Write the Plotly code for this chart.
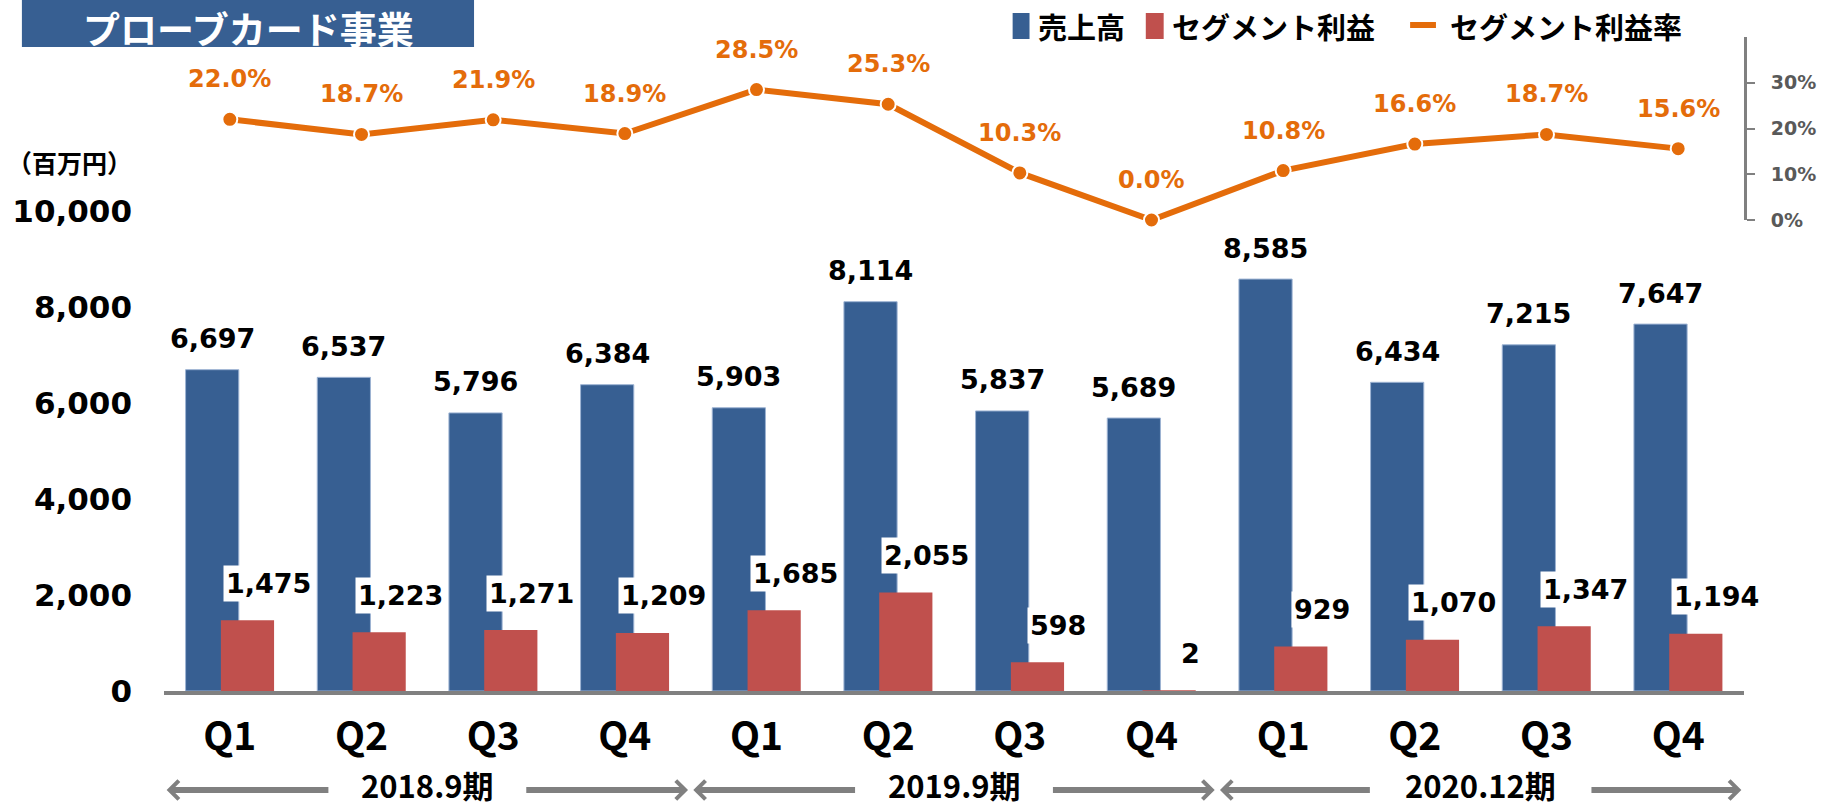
import plotly.graph_objects as go

# ---------------- data ----------------
quarters = ["Q1", "Q2", "Q3", "Q4", "Q1", "Q2", "Q3", "Q4", "Q1", "Q2", "Q3", "Q4"]
periods = ["2018.9期", "2019.9期", "2020.12期"]
sales = [6697, 6537, 5796, 6384, 5903, 8114, 5837, 5689, 8585, 6434, 7215, 7647]
profit = [1475, 1223, 1271, 1209, 1685, 2055, 598, 2, 929, 1070, 1347, 1194]
margin_pct = [22.0, 18.7, 21.9, 18.9, 28.5, 25.3, 10.3, 0.0, 10.8, 16.6, 18.7, 15.6]
series_names = ["売上高", "セグメント利益", "セグメント利益率"]
title_text = "プローブカード事業"
unit_label = "（百万円）"
y_ticks = [0, 2000, 4000, 6000, 8000, 10000]
y2_ticks = [0, 10, 20, 30]

# ---------------- styles ----------------
BLUE = "#375F92"
RED = "#C0504D"
ORANGE = "#E46C0A"
GRAY = "#808080"
W, H = 1828, 808
ML, MR, MT, MB = 160, 78, 37, 117
PW = W - ML - MR
PH = H - MT - MB
JP = "Noto Sans CJK JP"
NUM = "DejaVu Sans"


def px_x(p):
    return (p - ML) / PW


def px_y(p):
    return (H - MB - p) / PH


xs = list(range(len(quarters)))
BW = 0.404
BLUE_OFF = -0.336
RED_OFF = -0.068
blue_c = BLUE_OFF + BW / 2
red_c = RED_OFF + BW / 2

fig = go.Figure()
fig.add_trace(go.Bar(
    x=xs, y=sales, width=BW, offset=BLUE_OFF, name=series_names[0],
    marker=dict(color=BLUE, line=dict(color="#9DB3D3", width=1)),
    showlegend=False, hoverinfo="skip"))
fig.add_trace(go.Bar(
    x=xs, y=profit, width=BW, offset=RED_OFF, name=series_names[1],
    marker=dict(color=RED, line=dict(width=0)),
    showlegend=False, hoverinfo="skip"))
fig.add_trace(go.Scatter(
    x=xs, y=[m / 100 for m in margin_pct], yaxis="y2", name=series_names[2],
    mode="lines+markers", cliponaxis=False,
    line=dict(color=ORANGE, width=6),
    marker=dict(size=15, color=ORANGE, line=dict(color="white", width=2)),
    showlegend=False, hoverinfo="skip"))

ann = []
# bar value labels
for i, v in enumerate(sales):
    ann.append(dict(x=i + blue_c, y=v, xref="x", yref="y", text=f"{v:,}",
                    showarrow=False, yshift=31, xanchor="center", yanchor="middle",
                    font=dict(family=NUM, size=27, color="black", weight="bold")))
for i, v in enumerate(profit):
    ann.append(dict(x=i + red_c, y=v, xref="x", yref="y", text=f"{v:,}",
                    showarrow=False, yshift=37, xshift=21,
                    xanchor="center", yanchor="middle",
                    bgcolor="white", borderpad=2,
                    font=dict(family=NUM, size=27, color="black", weight="bold")))
for i, m in enumerate(margin_pct):
    ann.append(dict(x=i, y=m / 100, xref="x", yref="y2", text=f"{m:.1f}%",
                    showarrow=False, yshift=40, xanchor="center", yanchor="middle",
                    font=dict(family=NUM, size=24, color=ORANGE, weight="bold")))

# period labels and arrows
period_half_gap = [0.74, 0.74, 0.83]
yp = px_y(784)
for g, name in enumerate(periods):
    c = 1.5 + 4 * g
    ann.append(dict(x=c, y=yp, xref="x", yref="paper", text=name, showarrow=False,
                    xanchor="center", yanchor="middle", borderpad=0,
                    font=dict(family=JP, size=31, color="black", weight="bold")))
    hg = period_half_gap[g]
    for tip, tail in ((c - 1.98, c - hg), (c + 1.98, c + hg)):
        ann.append(dict(x=tip, y=px_y(790), xref="x", yref="paper", text="",
                        showarrow=True, axref="x", ax=tail, ayref="pixel", ay=0,
                        arrowhead=4, arrowsize=0.6, arrowwidth=6, arrowcolor=GRAY,
                        standoff=0, startstandoff=0))

# unit label
ann.append(dict(x=px_x(130), y=px_y(162), xref="paper", yref="paper", text=unit_label,
                xanchor="right", yanchor="middle", showarrow=False,
                font=dict(family=JP, size=25, color="black", weight="bold")))

# title
ann.append(dict(x=px_x(245), y=px_y(28), xref="paper", yref="paper", text=title_text,
                xanchor="center", yanchor="middle", showarrow=False, borderpad=0,
                font=dict(family=JP, size=37, color="white", weight="bold")))

shapes = [dict(type="rect", xref="paper", yref="paper",
               x0=px_x(17), x1=px_x(472), y0=px_y(47), y1=px_y(0),
               fillcolor=BLUE, line=dict(width=0), layer="above")]

# legend (manual)
leg_y = 26
shapes.append(dict(type="rect", xref="paper", yref="paper",
                   x0=px_x(1014), x1=px_x(1031), y0=px_y(leg_y + 13), y1=px_y(leg_y - 13),
                   fillcolor=BLUE, line=dict(width=0)))
shapes.append(dict(type="rect", xref="paper", yref="paper",
                   x0=px_x(1148), x1=px_x(1166), y0=px_y(leg_y + 13), y1=px_y(leg_y - 13),
                   fillcolor=RED, line=dict(width=0)))
shapes.append(dict(type="line", xref="paper", yref="paper",
                   x0=px_x(1414), x1=px_x(1440), y0=px_y(leg_y - 1), y1=px_y(leg_y - 1),
                   line=dict(color=ORANGE, width=6)))
for name, xl in zip(series_names, (1038, 1172, 1452)):
    ann.append(dict(x=px_x(xl), y=px_y(leg_y), xref="paper", yref="paper", text=name,
                    xanchor="left", yanchor="middle", showarrow=False,
                    font=dict(family=JP, size=29, color="black", weight="bold")))

fig.update_layout(
    width=W, height=H,
    margin=dict(l=ML, r=MR, t=MT, b=MB),
    paper_bgcolor="white", plot_bgcolor="white",
    barmode="overlay",
    showlegend=False,
    xaxis=dict(range=[-0.5, 11.5], tickvals=xs, ticktext=quarters,
               showline=True, linecolor=GRAY, linewidth=4, showgrid=False,
               zeroline=False, ticks="", ticklabelstandoff=8,
               tickfont=dict(family=JP, size=39, color="black", weight="bold")),
    yaxis=dict(domain=[0, px_y(211.2)], range=[0, 10000], tickvals=y_ticks,
               tickformat=",d", showgrid=False, zeroline=False, showline=False,
               ticks="", ticklabelstandoff=31,
               tickfont=dict(family=NUM, size=31, color="black", weight="bold")),
    yaxis2=dict(domain=[px_y(220), 1], range=[0, 0.4], anchor="x", side="right",
                tickvals=[t / 100 for t in y2_ticks], ticktext=[f"{t}%" for t in y2_ticks],
                showgrid=False, zeroline=False, showline=True, linecolor=GRAY, linewidth=3,
                ticks="outside", ticklen=8, tickwidth=2, tickcolor=GRAY,
                ticklabelstandoff=12,
                tickfont=dict(family=NUM, size=19, color="#595959", weight="bold")),
    annotations=ann,
    shapes=shapes,
)

fig.write_html("out.html", config={"displayModeBar": False},
               post_script="document.body.style.margin='0px';document.body.style.overflow='hidden';")
